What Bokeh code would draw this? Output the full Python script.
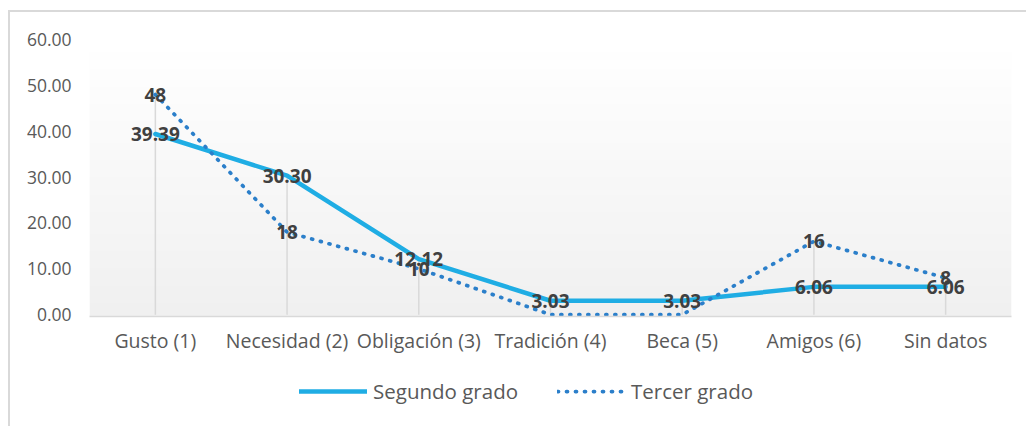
import numpy as np
from bokeh.plotting import figure
from bokeh.layouts import column
from bokeh.models import (FixedTicker, NumeralTickFormatter, Legend, LegendItem,
                          ColumnDataSource, Range1d, LabelSet)
from bokeh.embed import file_html
from bokeh.resources import INLINE
from bokeh.core.properties import value

# ---------------- data ----------------
categories = ["Gusto (1)", "Necesidad (2)", "Obligación (3)", "Tradición (4)",
              "Beca (5)", "Amigos (6)", "Sin datos"]
segundo = [39.39, 30.30, 12.12, 3.03, 3.03, 6.06, 6.06]
tercer = [48, 18, 10, 0, 0, 16, 8]
segundo_labels = ["39.39", "30.30", "12.12", "3.03", "3.03", "6.06", "6.06"]
tercer_labels = ["48", "18", "10", "0", "0", "16", "8"]
y_ticks = [0, 10, 20, 30, 40, 50, 60]
series_names = ["Segundo grado", "Tercer grado"]

# ---------------- styles ----------------
FONT = "Open Sans"
C_SEG = "#1fade4"
C_TER = "#2b7fca"
C_TXT = "#595959"
C_LBL = "#404040"
C_GRID = "#d9d9d9"
SEG_STYLE = dict(line_color=C_SEG, line_width=4.5, line_join="round", line_cap="round")
TER_STYLE = dict(line_color=C_TER, line_width=3.75, line_dash="1 8",
                 line_cap="round", line_join="round")

n = len(categories)
xs = list(range(n))
x_start, x_end = -0.5, n - 0.5
y_start, y_end = -0.4, y_ticks[-1]

# ---------------- main chart ----------------
p = figure(width=1026, height=356, output_backend="svg", toolbar_location=None,
           x_range=Range1d(x_start, x_end), y_range=Range1d(y_start, y_end),
           min_border_left=89, min_border_right=15, min_border_top=39,
           min_border_bottom=40)
p.outline_line_color = None
p.background_fill_color = None
p.border_fill_alpha = 0
p.xgrid.visible = False
p.ygrid.visible = False

# plot-area gradient (white at top, light gray at bottom)
rows = 64
shade = np.linspace(0xF0, 0xFF, rows).round().astype(np.uint8)
img = np.zeros((rows, 1), dtype=np.uint32)
view = img.view(dtype=np.uint8).reshape((rows, 1, 4))
view[:, 0, 0] = shade
view[:, 0, 1] = shade
view[:, 0, 2] = shade
view[:, 0, 3] = 255
p.image_rgba(image=[img], x=x_start, y=y_start, dw=x_end - x_start,
             dh=y_end - y_start, level="image")

# drop lines
drop_top = [max(a, b) for a, b in zip(segundo, tercer)]
p.segment(x0=xs, y0=[y_ticks[0]] * n, x1=xs, y1=drop_top,
          line_color=C_GRID, line_width=1.5)

# series
p.line(xs, segundo, **SEG_STYLE)
p.line(xs, tercer, **TER_STYLE)

# data labels
src_seg = ColumnDataSource(dict(x=xs, y=segundo, t=segundo_labels))
ter_idx = [i for i in range(n) if tercer[i] != 0]
src_ter = ColumnDataSource(dict(x=[xs[i] for i in ter_idx],
                                y=[tercer[i] for i in ter_idx],
                                t=[tercer_labels[i] for i in ter_idx]))
for src in (src_seg, src_ter):
    p.add_layout(LabelSet(x="x", y="y", text="t", source=src,
                          text_font=value(FONT), text_font_style="bold",
                          text_font_size="19px", text_color=C_LBL,
                          text_align="center", text_baseline="middle"))

# axes
p.yaxis.ticker = FixedTicker(ticks=y_ticks)
p.yaxis.formatter = NumeralTickFormatter(format="0.00")
p.yaxis.axis_line_color = None
p.yaxis.major_tick_line_color = None
p.yaxis.minor_tick_line_color = None
p.yaxis.major_tick_out = 0
p.yaxis.minor_tick_out = 0
p.yaxis.major_label_text_font = FONT
p.yaxis.major_label_text_font_size = "17.5px"
p.yaxis.major_label_text_color = C_TXT
p.yaxis.major_label_standoff = 18

p.xaxis.ticker = FixedTicker(ticks=xs)
p.xaxis.major_label_overrides = {i: c for i, c in enumerate(categories)}
p.xaxis.axis_line_color = C_GRID
p.xaxis.axis_line_width = 1.5
p.xaxis.major_tick_line_color = None
p.xaxis.minor_tick_line_color = None
p.xaxis.major_tick_out = 0
p.xaxis.minor_tick_out = 0
p.xaxis.major_label_text_font = FONT
p.xaxis.major_label_text_font_size = "19.5px"
p.xaxis.major_label_text_color = C_TXT
p.xaxis.major_label_standoff = 10

# ---------------- legend strip ----------------
# the series are drawn again here only so the legend has glyphs; the ranges
# keep them out of view
pl = figure(width=1026, height=70, output_backend="svg", toolbar_location=None,
            x_axis_type=None, y_axis_type=None,
            x_range=Range1d(n, n + 1), y_range=Range1d(0, 1),
            min_border_left=0, min_border_right=0, min_border_top=0,
            min_border_bottom=0)
pl.outline_line_color = None
pl.background_fill_alpha = 0
pl.border_fill_alpha = 0
l_seg = pl.line(xs, segundo, **SEG_STYLE)
l_ter = pl.line(xs, tercer, **TER_STYLE)
legend = Legend(items=[LegendItem(label=series_names[0], renderers=[l_seg]),
                       LegendItem(label=series_names[1], renderers=[l_ter])],
                location=(210, 21), orientation="horizontal",
                glyph_width=68, glyph_height=24, label_height=24,
                label_standoff=6, spacing=39, padding=0, margin=0,
                border_line_color=None, background_fill_alpha=0,
                label_text_font=FONT, label_text_font_size="20.5px",
                label_text_color=C_TXT)
pl.add_layout(legend, "center")

lay = column(p, pl, spacing=0)
lay.styles = {
    "background": ("linear-gradient(#d9d9d9,#d9d9d9) 8px 10px / 2px 420px no-repeat, "
                   "linear-gradient(#d9d9d9,#d9d9d9) 8px 10px / 1020px 2px no-repeat")
}

open("out.html", "w").write(file_html(lay, INLINE))
